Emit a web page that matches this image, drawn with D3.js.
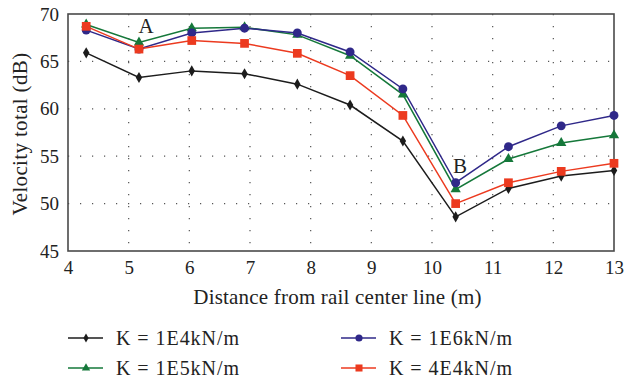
<!DOCTYPE html>
<html><head><meta charset="utf-8">
<script src="https://cdn.jsdelivr.net/npm/d3@7"></script>
<style>body{margin:0;background:#fff}svg{display:block}</style>
</head><body><svg id="c" width="624" height="381"></svg>
<script>
const distances = [4.3, 5.17, 6.04, 6.91, 7.78, 8.65, 9.52, 10.39, 11.26, 12.13, 13.0];
const k1e4 = [65.9, 63.3, 64.0, 63.7, 62.6, 60.4, 56.6, 48.6, 51.6, 52.9, 53.5];
const k1e6 = [68.3, 66.3, 68.0, 68.5, 68.0, 66.0, 62.1, 52.2, 56.0, 58.2, 59.3];
const k1e5 = [68.9, 67.0, 68.5, 68.6, 67.8, 65.6, 61.5, 51.5, 54.7, 56.4, 57.2];
const k4e4 = [68.7, 66.3, 67.2, 66.9, 65.85, 63.5, 59.3, 50.0, 52.2, 53.4, 54.25];
const xTicks = [4, 5, 6, 7, 8, 9, 10, 11, 12, 13];
const yTicks = [45, 50, 55, 60, 65, 70];
const seriesNames = ["K = 1E4kN/m", "K = 1E6kN/m", "K = 1E5kN/m", "K = 4E4kN/m"];

const FONT = "'Liberation Serif'";
const series = [
  {name: seriesNames[0], values: k1e4, color: "#1c1c1c", sym: d3.symbolDiamond, size: 36},
  {name: seriesNames[1], values: k1e6, color: "#2f2889", sym: d3.symbolCircle, size: 62},
  {name: seriesNames[2], values: k1e5, color: "#15783a", sym: d3.symbolTriangle, size: 46},
  {name: seriesNames[3], values: k4e4, color: "#ec3a1f", sym: d3.symbolSquare, size: 76}
];
const drawOrder = [0, 2, 1, 3];

const svg = d3.select("#c");
const L = 68, R = 614, T = 14, B = 251;
const x = d3.scaleLinear().domain([4, 13]).range([L, R]);
const y = d3.scaleLinear().domain([45, 70]).range([B, T]);

const g = svg.append("g");
g.selectAll("line.vx").data(xTicks.slice(1, -1)).enter().append("line")
  .attr("x1", d => x(d)).attr("x2", d => x(d)).attr("y1", T).attr("y2", B)
  .attr("stroke", "#555").attr("stroke-width", 1.2).attr("stroke-dasharray", "1.2,10.8");
g.selectAll("line.hy").data(yTicks.slice(1, -1)).enter().append("line")
  .attr("y1", d => y(d)).attr("y2", d => y(d)).attr("x1", L).attr("x2", R)
  .attr("stroke", "#555").attr("stroke-width", 1.2).attr("stroke-dasharray", "1.2,10.8");

svg.append("rect").attr("x", L).attr("y", T).attr("width", R - L).attr("height", B - T)
  .attr("fill", "none").attr("stroke", "#4a4a4a").attr("stroke-width", 1.6);

const xa = svg.append("g").attr("transform", `translate(0,${B})`)
  .call(d3.axisBottom(x).tickValues(xTicks).tickSize(0).tickPadding(10).tickFormat(d3.format("d")));
const ya = svg.append("g").attr("transform", `translate(${L},0)`)
  .call(d3.axisLeft(y).tickValues(yTicks).tickSize(0).tickPadding(9).tickFormat(d3.format("d")));
[xa, ya].forEach(a => {
  a.attr("font-family", null).attr("font-size", null);
  a.select(".domain").remove();
  a.selectAll("text").style("font-family", FONT).style("font-size", "19px").attr("fill", "#222");
});

function txt(sel, size) {
  return sel.style("font-family", FONT).style("font-size", size + "px").attr("fill", "#222");
}
txt(svg.append("text").attr("x", 337.5).attr("y", 304).attr("text-anchor", "middle"), 21)
  .style("letter-spacing", "0.2px").text("Distance from rail center line (m)");
txt(svg.append("text").attr("transform", `translate(27,134) rotate(-90)`).attr("text-anchor", "middle"), 21)
  .style("letter-spacing", "0.35px").text("Velocity total (dB)");

const line = d3.line().x((d, i) => x(distances[i])).y(d => y(d));
drawOrder.forEach(si => {
  const s = series[si];
  svg.append("path").datum(s.values).attr("d", line).attr("fill", "none")
    .attr("stroke", s.color).attr("stroke-width", 1.5);
});
drawOrder.forEach(si => {
  const s = series[si];
  svg.selectAll(null).data(s.values).enter().append("path")
    .attr("d", d3.symbol().type(s.sym).size(s.size))
    .attr("transform", (d, i) => `translate(${x(distances[i])},${y(d)})`)
    .attr("fill", s.color);
});

txt(svg.append("text").attr("x", 146).attr("y", 33).attr("text-anchor", "middle"), 21).text("A");
txt(svg.append("text").attr("x", 460).attr("y", 173).attr("text-anchor", "middle"), 21).text("B");

const legPos = [[68, 338], [341, 338], [68, 368], [341, 368]];
series.forEach((s, i) => {
  const [lx, ly] = legPos[i];
  const lg = svg.append("g").attr("transform", `translate(${lx},${ly})`);
  lg.append("line").attr("x1", 0).attr("x2", 35).attr("y1", 0).attr("y2", 0).attr("stroke", s.color).attr("stroke-width", 1.5);
  lg.append("path").attr("d", d3.symbol().type(s.sym).size(s.size * 0.65)).attr("transform", "translate(18,0)").attr("fill", s.color);
  txt(lg.append("text").attr("x", 48).attr("y", 6.5), 20).style("letter-spacing", "0.95px").text(s.name);
});
</script></body></html>
